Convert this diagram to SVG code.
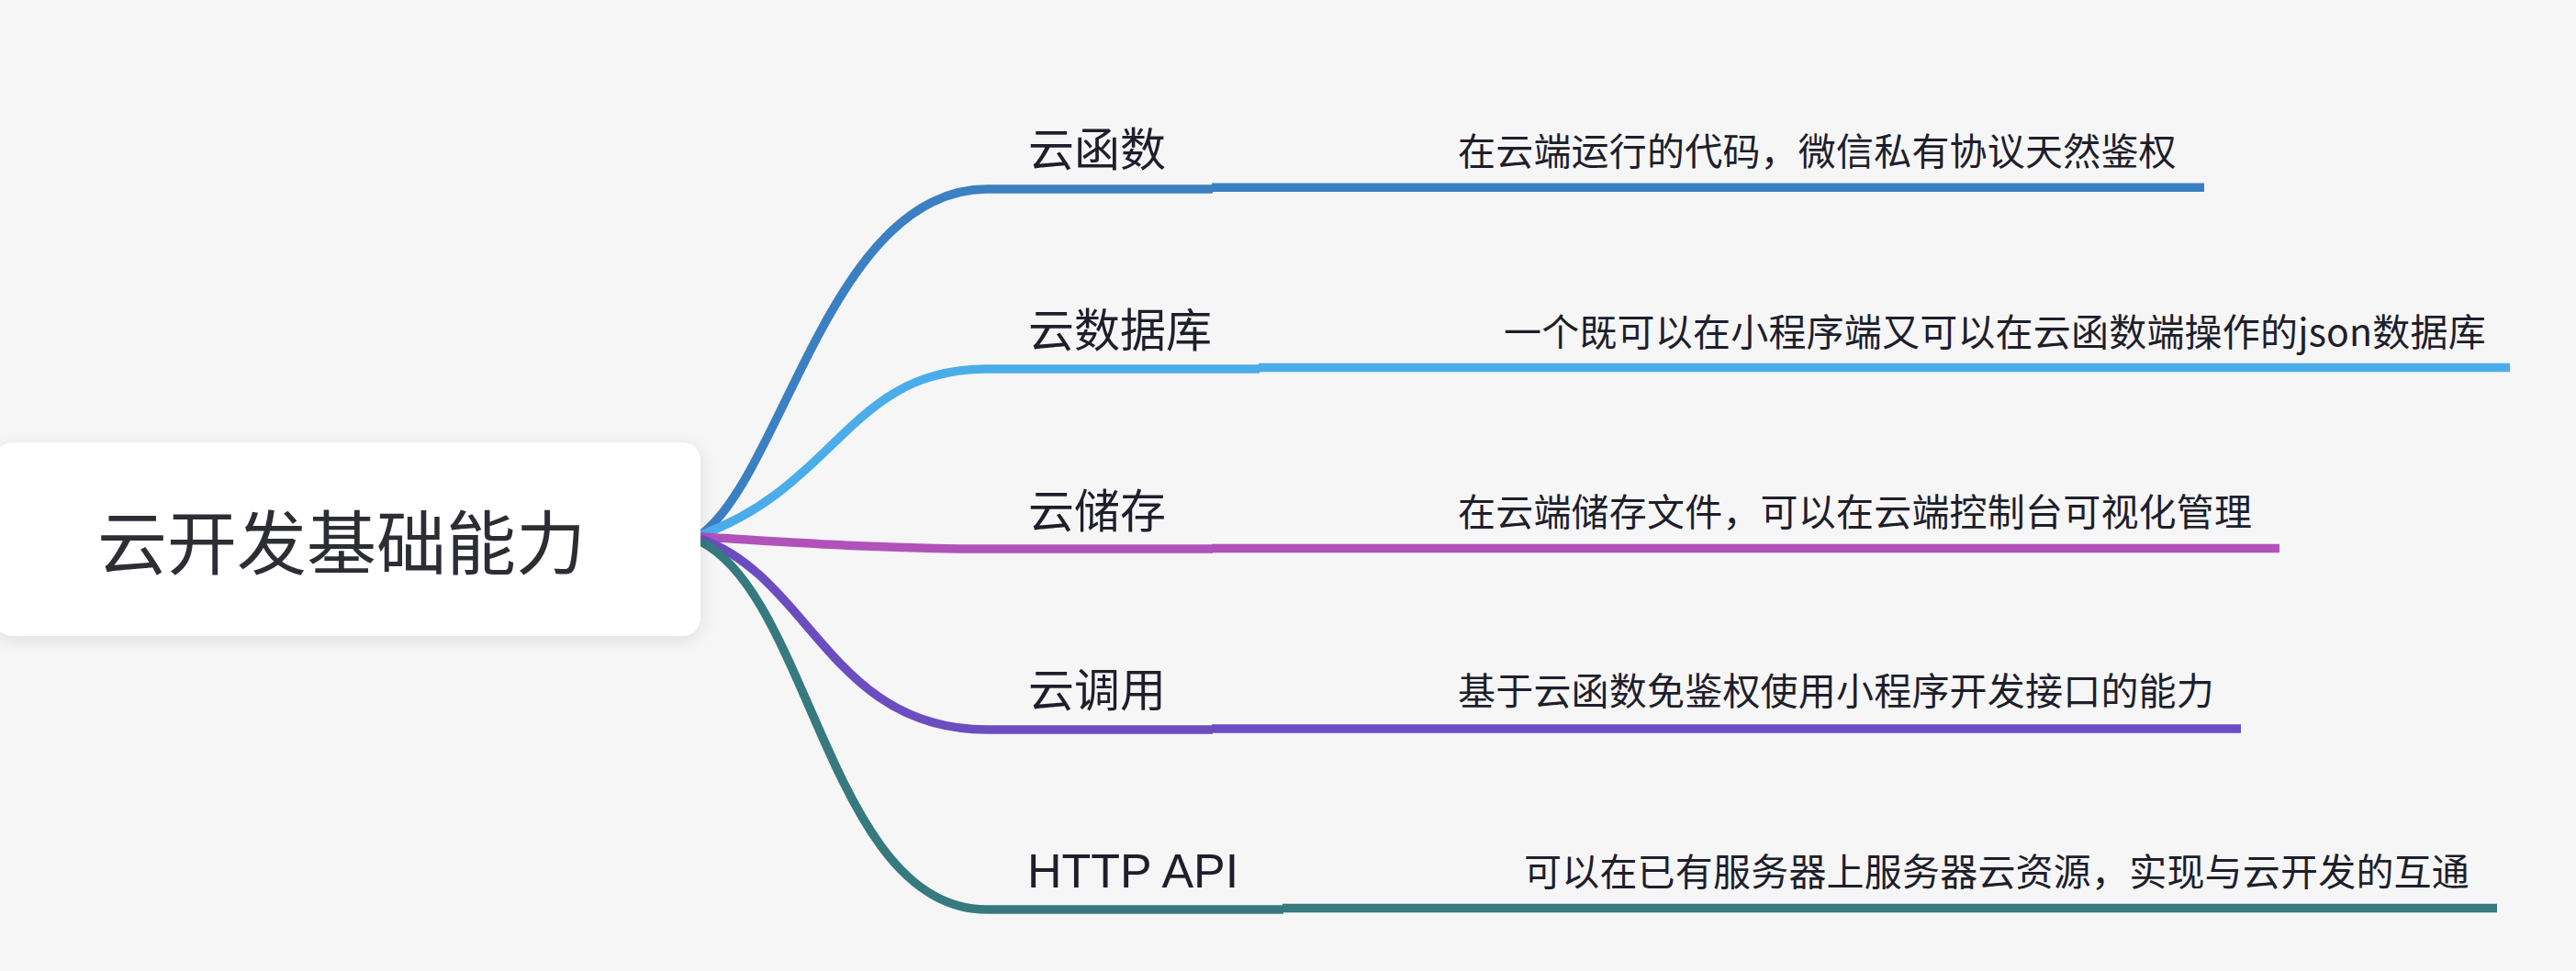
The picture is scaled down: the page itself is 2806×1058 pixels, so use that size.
<svg xmlns="http://www.w3.org/2000/svg" width="2806" height="1058" viewBox="0 0 2806 1058">
<defs>
<filter id="shadow" x="-10%" y="-20%" width="120%" height="150%">
<feDropShadow dx="0" dy="4" stdDeviation="9" flood-color="#000" flood-opacity="0.10"/>
</filter>
<style>
.bg{fill:#f6f6f6}
.root{fill:#ffffff;filter:url(#shadow)}
.t{font-family:"Noto Sans CJK SC","Noto Sans",sans-serif;fill:#1e1e2c}
.rt{font-size:76px;fill:#2c2e34}
.lb{font-size:50px}
.lbl{font-family:"Liberation Sans",Arial,sans-serif;font-size:52px;fill:#1e1e2c}
.ds{font-size:41px;letter-spacing:0.2px}
.ln{fill:none;stroke-width:9.5;stroke-linecap:butt}
.c1{stroke:#3a80c2}
.c2{stroke:#4aadea}
.c3{stroke:#b052ba}
.c4{stroke:#6c4dbf}
.c5{stroke:#367a7f}
</style>
</defs>
<rect class="bg" x="0" y="0" width="2806" height="1058"/>
<g id="connectors">
<path class="ln c1" d="M763,583 C853,517 905,206 1075,206 L1321,206"/>
<path class="ln c1" d="M1320,204.3 L2401,204.3"/>
<path class="ln c2" d="M763,583 C913,529 925,402 1075,402 L1372,402"/>
<path class="ln c2" d="M1371,400.5 L2734,400.5"/>
<path class="ln c3" d="M763,585 C850,590 950,598 1075,598 L1321,598"/>
<path class="ln c3" d="M1320,597.5 L2483,597.5"/>
<path class="ln c4" d="M763,587 C883,629 905,795 1075,795 L1321,795"/>
<path class="ln c4" d="M1320,794 L2441,794"/>
<path class="ln c5" d="M763,590 C883,650 905,991 1075,991 L1398,991"/>
<path class="ln c5" d="M1397,989.5 L2720,989.5"/>
</g>
<g id="root">
<rect class="root" x="-6" y="482" width="769" height="211" rx="20" ry="20"/>
<text class="t rt" x="372" y="620" text-anchor="middle">云开发基础能力</text>
</g>
<g id="n1">
<text class="t lb" x="1120" y="181">云函数</text>
</g>
<g id="n1d">
<text class="t ds" x="1588" y="180">在云端运行的代码，微信私有协议天然鉴权</text>
</g>
<g id="n2">
<text class="t lb" x="1120" y="378">云数据库</text>
</g>
<g id="n2d">
<text class="t ds" x="1638" y="377">一个既可以在小程序端又可以在云函数端操作的json数据库</text>
</g>
<g id="n3">
<text class="t lb" x="1120" y="575">云储存</text>
</g>
<g id="n3d">
<text class="t ds" x="1588" y="573">在云端储存文件，可以在云端控制台可视化管理</text>
</g>
<g id="n4">
<text class="t lb" x="1120" y="770">云调用</text>
</g>
<g id="n4d">
<text class="t ds" x="1588" y="768">基于云函数免鉴权使用小程序开发接口的能力</text>
</g>
<g id="n5">
<text class="lbl" x="1119" y="967">HTTP API</text>
</g>
<g id="n5d">
<text class="t ds" x="1660" y="965">可以在已有服务器上服务器云资源，实现与云开发的互通</text>
</g>
</svg>
